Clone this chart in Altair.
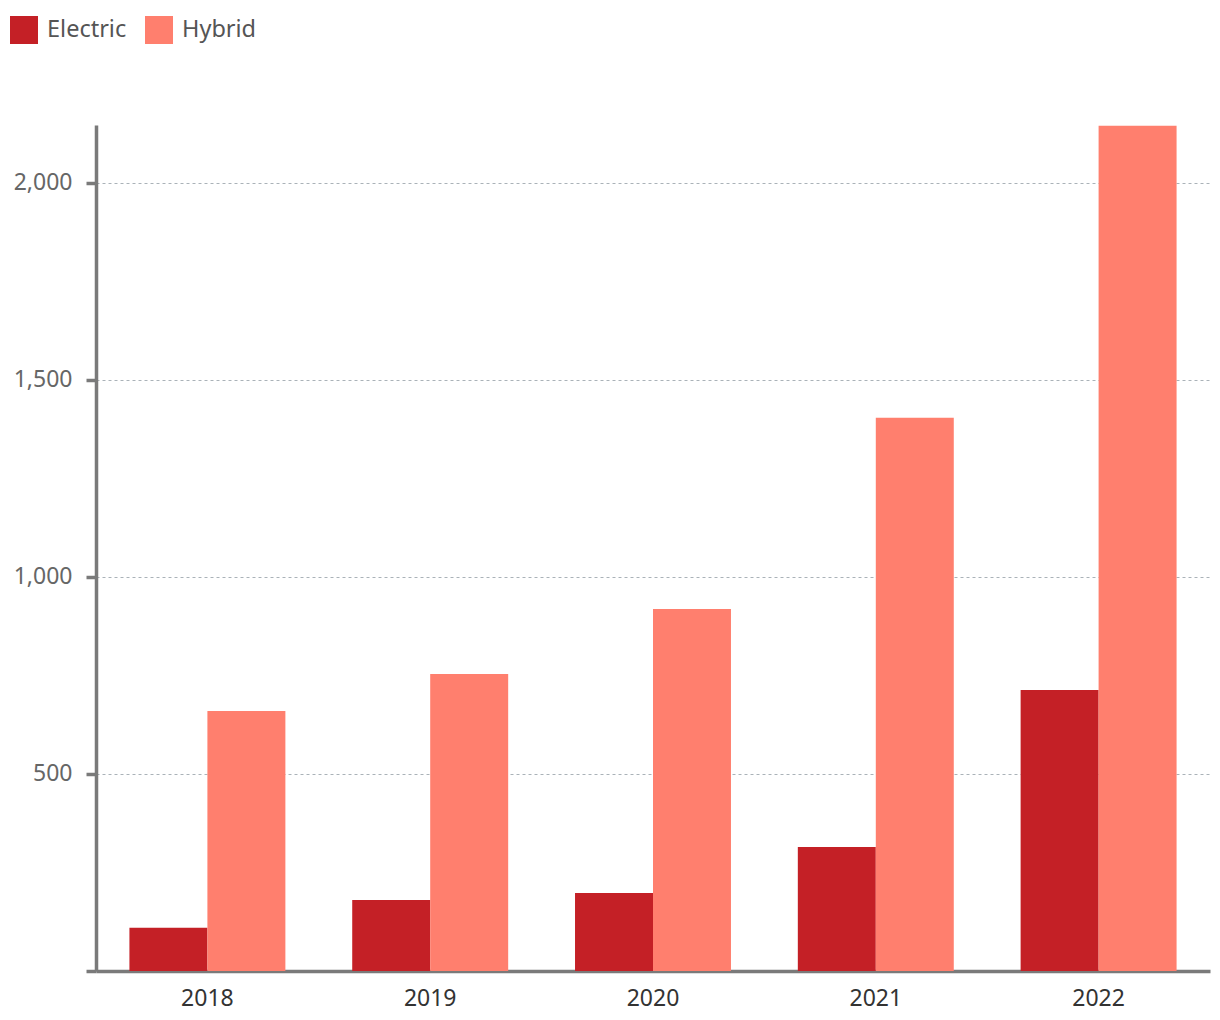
import altair as alt
import pandas as pd

years = ["2018", "2019", "2020", "2021", "2022"]
electric = [110, 180, 198, 315, 713]
hybrid = [660, 754, 919, 1404, 2145]
series = ["Electric", "Hybrid"]
colors = ["#C42026", "#FF7F6E"]

rows = []
for i, y in enumerate(years):
    rows.append({"year": y, "type": "Electric", "value": electric[i]})
    rows.append({"year": y, "type": "Hybrid", "value": hybrid[i]})
df = pd.DataFrame(rows)

FONT = "Noto Sans"

chart = alt.Chart(df).mark_bar().encode(
    x=alt.X("year:N", sort=years, title=None,
            scale=alt.Scale(paddingInner=0.3, paddingOuter=0.15),
            axis=alt.Axis(labelAngle=0, ticks=False, domainColor="#7a7a7a",
                          domainWidth=3.5, labelColor="#333333", labelFontSize=23,
                          labelFont=FONT, labelPadding=16, grid=False)),
    xOffset=alt.XOffset("type:N", sort=series, scale=alt.Scale(paddingInner=0, paddingOuter=0)),
    y=alt.Y("value:Q", title=None,
            scale=alt.Scale(domain=[0, 2147], nice=False, zero=True),
            axis=alt.Axis(values=[0, 500, 1000, 1500, 2000],
                          labelExpr="datum.value == 0 ? '' : format(datum.value, ',')",
                          domainColor="#7a7a7a", domainWidth=3.5,
                          tickColor="#7a7a7a", tickWidth=3.5, tickSize=10,
                          labelColor="#666666", labelFontSize=23, labelFont=FONT,
                          labelPadding=14, grid=True, gridColor="#aab2b8",
                          gridDash=[3, 3], gridWidth=1)),
    color=alt.Color("type:N", sort=series,
                    scale=alt.Scale(domain=series, range=colors),
                    legend=alt.Legend(title=None, orient="none", legendX=-86, legendY=-109,
                                      direction="horizontal", symbolType="square",
                                      symbolSize=784, symbolStrokeWidth=0,
                                      labelFontSize=23.5, labelFont=FONT,
                                      labelColor="#555555", columnPadding=18,
                                      labelOffset=9)),
).properties(
    width=1114, height=846,
    autosize=alt.AutoSizeParams(type="none"),
    padding={"left": 88, "top": 117, "right": 2, "bottom": 41},
).configure_view(stroke=None)

chart.save("out.html", embed_options={"renderer": "svg", "actions": False})
